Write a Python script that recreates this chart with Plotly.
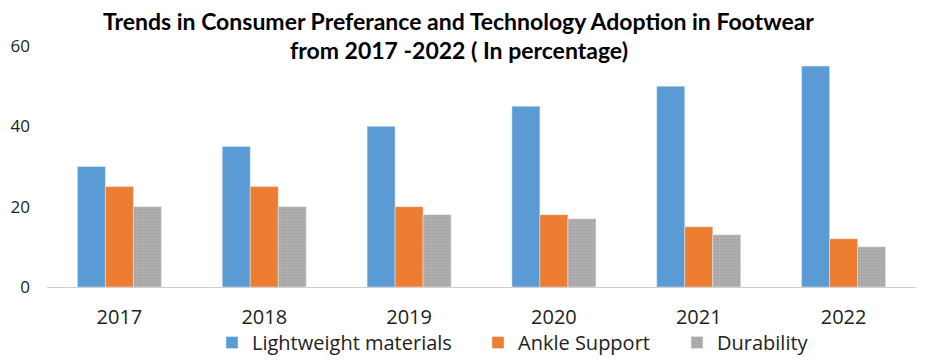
import plotly.graph_objects as go

years = ["2017", "2018", "2019", "2020", "2021", "2022"]
lightweight = [30, 35, 40, 45, 50, 55]
ankle = [25, 25, 20, 18, 15, 12]
durability = [20, 20, 18, 17, 13, 10]

title_lines = ["Trends in Consumer Preferance and Technology Adoption in Footwear",
               "from 2017 -2022 ( In percentage)"]

# page body has an 8px default margin, so the figure is sized 932x353
W, H = 932, 353
OFF = 8

fig = go.Figure()
fig.add_trace(go.Bar(x=years, y=lightweight, name="Lightweight materials", marker_color="#5B9BD5",
                     legend="legend", showlegend=True))
fig.add_trace(go.Bar(x=years, y=ankle, name="Ankle Support", marker_color="#ED7D31",
                     legend="legend2", showlegend=True))
fig.add_trace(go.Bar(x=years, y=durability, name="Durability", marker_color="#A5A5A5", legend="legend3",
                     showlegend=True,
                     marker_pattern=dict(shape=".", fgcolor="#8f8f8f", bgcolor="#b0b0b0", size=3, solidity=0.4)))

# plot area: 241 px tall, bottom at page y 287
for text, ypix in zip(title_lines, [21, 50]):
    fig.add_annotation(text=text, xref="paper", yref="paper", x=0.474, y=(287 - ypix) / 241,
                       xanchor="center", yanchor="middle", showarrow=False,
                       font=dict(family="Lato", size=23, color="black", weight="bold"))


def legend_at(left_px):
    return dict(orientation="h", x=(left_px - OFF) / W, xanchor="left", xref="container",
                y=1 - (323 - OFF) / H, yanchor="top", yref="container",
                font=dict(size=20, color="#222"), itemwidth=30, bgcolor="rgba(0,0,0,0)")


fig.update_layout(
    width=W, height=H,
    margin=dict(l=47 - OFF, r=24, t=46 - OFF, b=74, pad=0),
    paper_bgcolor="white", plot_bgcolor="white",
    showlegend=True,
    barmode="group", bargap=0.42, bargroupgap=0,
    font=dict(family="Open Sans", color="#222"),
    legend=legend_at(212),
    legend2=legend_at(478),
    legend3=legend_at(677),
    xaxis=dict(showline=True, linecolor="#d0d0d0", linewidth=1, ticks="", tickfont=dict(size=20),
               ticklabelstandoff=12, automargin=False),
    yaxis=dict(range=[0, 60], tickvals=[0, 20, 40, 60], showgrid=False, zeroline=False,
               showline=False, tickfont=dict(size=17), ticklabelstandoff=16, automargin=False),
)

fig.write_html("out.html")
